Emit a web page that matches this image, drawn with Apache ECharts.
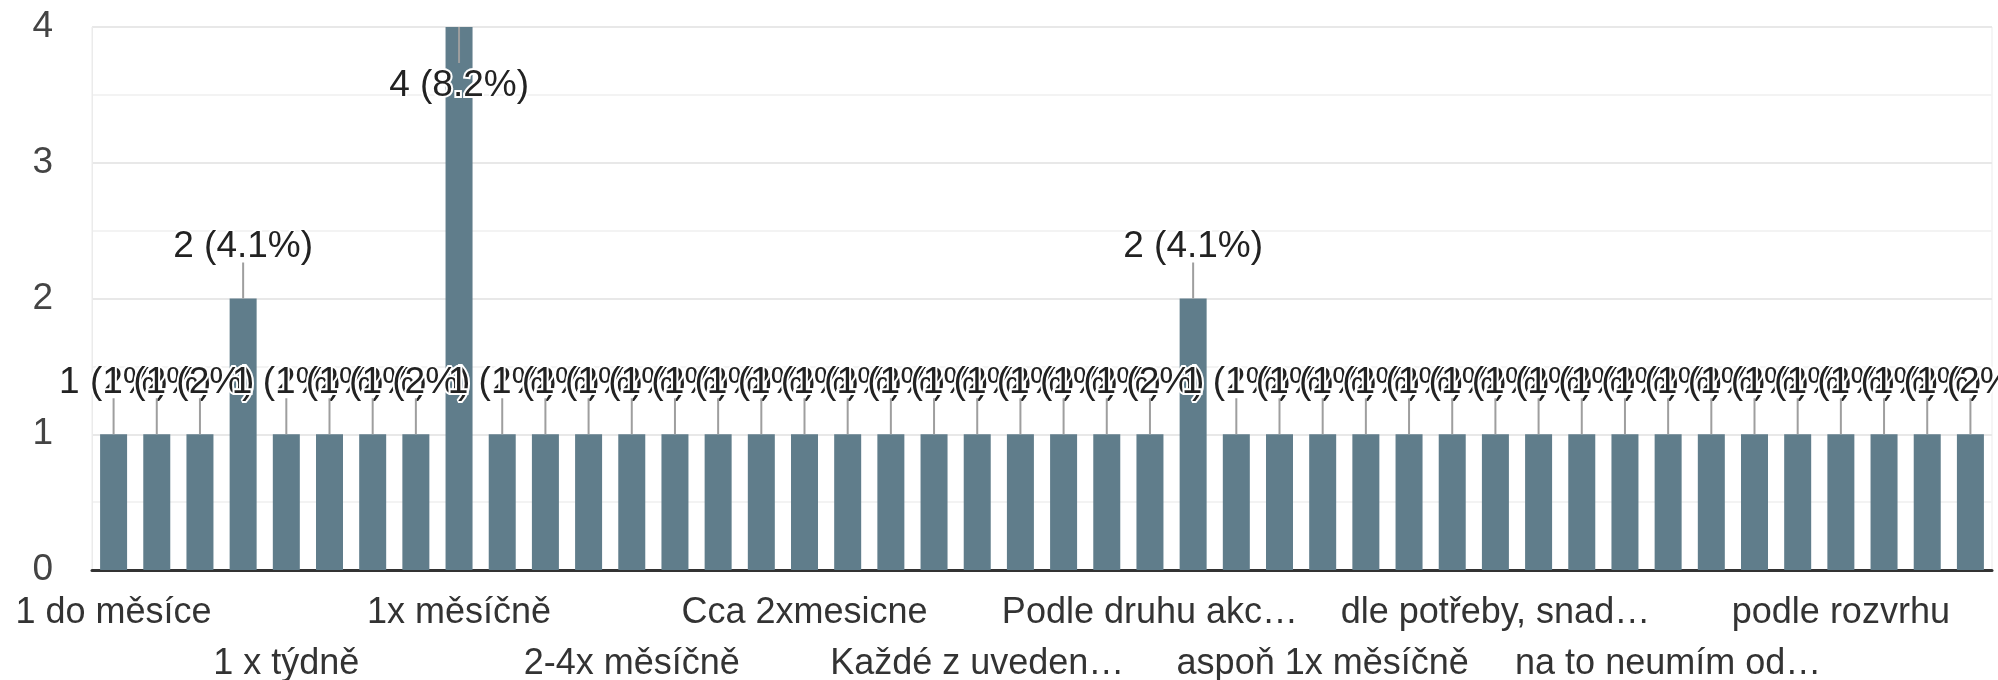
<!DOCTYPE html>
<html>
<head>
    <meta charset="utf-8">
    <title>Odpovědi</title>
    <script src="https://cdn.jsdelivr.net/npm/echarts@6/dist/echarts.min.js"></script>
    <style>
        html, body { margin: 0; padding: 0; background: #fff; }
        #main { width: 1998px; height: 680px; }
    </style>
</head>
<body>
<div id="main"></div>
<script type="text/javascript">
    // odpovědi (seřazené jako ve formuláři)
    var categories = [
        "1 do měsíce", "1 krát za měsíc", "1 měsíčně", "1 týdně",
        "1 x týdně", "1-2x měsíčně", "1-2x týdně", "1x za 14 dní",
        "1x měsíčně", "1x týdně", "2 x měsíčně", "2-3x měsíčně",
        "2-4x měsíčně", "2x měsíčně", "3x měsíčně", "Cca 1x týdně",
        "Cca 2xmesicne", "Denně", "Dle potřeby", "Jednou měsíčně",
        "Každé z uveden…", "Max 1x měsíčně", "Nepravidelně", "Občas",
        "Podle druhu akc…", "Podle potřeby", "Pravidelně", "Týdně",
        "aspoň 1x měsíčně", "cca 1x týdně", "denně", "dle možností",
        "dle potřeby, snad…", "jednou za měsíc", "každý týden", "měsíčně",
        "na to neumím od…", "nepravidelně", "občas", "párkrát měsíčně",
        "podle rozvrhu", "pravidelně", "týdně", "velmi často"
    ];
    var counts = [
        1, 1, 1, 2,
        1, 1, 1, 1,
        4, 1, 1, 1,
        1, 1, 1, 1,
        1, 1, 1, 1,
        1, 1, 1, 1,
        1, 2, 1, 1,
        1, 1, 1, 1,
        1, 1, 1, 1,
        1, 1, 1, 1,
        1, 1, 1, 1
    ];
    var yTicks = [0, 1, 2, 3, 4];

    var yMax = yTicks[yTicks.length - 1];
    var total = counts.reduce(function (a, b) { return a + b; }, 0);
    var font = '"Liberation Sans", Arial, sans-serif';

    function labelText(v) {
        var p = Math.round(v / total * 1000) / 10;
        return v + ' (' + p + '%)';
    }

    // nejvyšší sloupec má popisek uvnitř
    var barData = counts.map(function (v) {
        if (v >= yMax) {
            return {value: v, label: {position: 'insideTop', distance: 40}};
        }
        return v;
    });

    // popisky osy x ve dvou řadách: každá 4. kategorie, střídavě nahoře a dole
    function xAxisRow(first, margin) {
        return {
            type: 'category',
            data: categories,
            position: 'bottom',
            axisLine: first ? {lineStyle: {color: '#333', width: 3}} : {show: false},
            axisTick: {show: false},
            splitLine: {show: false},
            axisLabel: {
                interval: function (idx) { return idx % 8 === (first ? 0 : 4); },
                margin: margin,
                fontSize: 36,
                fontFamily: font,
                color: '#333'
            }
        };
    }

    var myChart = echarts.init(document.getElementById('main'));
    myChart.setOption({
        animation: false,
        grid: {
            left: 92, right: 6, top: 27, bottom: 110,
            outerBoundsMode: 'none',
            show: true, borderColor: '#ebebeb', borderWidth: 1
        },
        xAxis: [xAxisRow(true, 25), xAxisRow(false, 76)],
        yAxis: {
            type: 'value',
            min: yTicks[0],
            max: yMax,
            interval: 1,
            axisLine: {show: true, lineStyle: {color: '#ebebeb'}},
            axisLabel: {fontSize: 37, fontFamily: font, color: '#444', margin: 39},
            splitLine: {lineStyle: {color: '#e8e8e8', width: 2}},
            minorTick: {show: false, splitNumber: 2},
            minorSplitLine: {show: true, lineStyle: {color: '#f3f3f3', width: 2}}
        },
        series: [{
            type: 'bar',
            xAxisIndex: 0,
            data: barData,
            barWidth: 27,
            itemStyle: {color: '#607d8b'},
            label: {
                show: true,
                position: 'top',
                distance: 33,
                fontSize: 37,
                fontFamily: font,
                color: '#222',
                textBorderColor: '#fff',
                textBorderWidth: 4,
                formatter: function (p) { return labelText(p.value); }
            }
        }, {
            // čárky od sloupce k popisku
            type: 'custom',
            xAxisIndex: 0,
            z: 3,
            silent: true,
            data: counts.map(function (v, i) { return [i, v]; }),
            renderItem: function (params, api) {
                var v = api.value(1);
                var p = api.coord([api.value(0), v]);
                var y2 = v >= yMax ? p[1] + 36 : p[1] - 36;
                return {
                    type: 'line',
                    shape: {x1: p[0], y1: p[1], x2: p[0], y2: y2},
                    style: {stroke: '#9e9e9e', lineWidth: 2}
                };
            }
        }]
    });
</script>
</body>
</html>
